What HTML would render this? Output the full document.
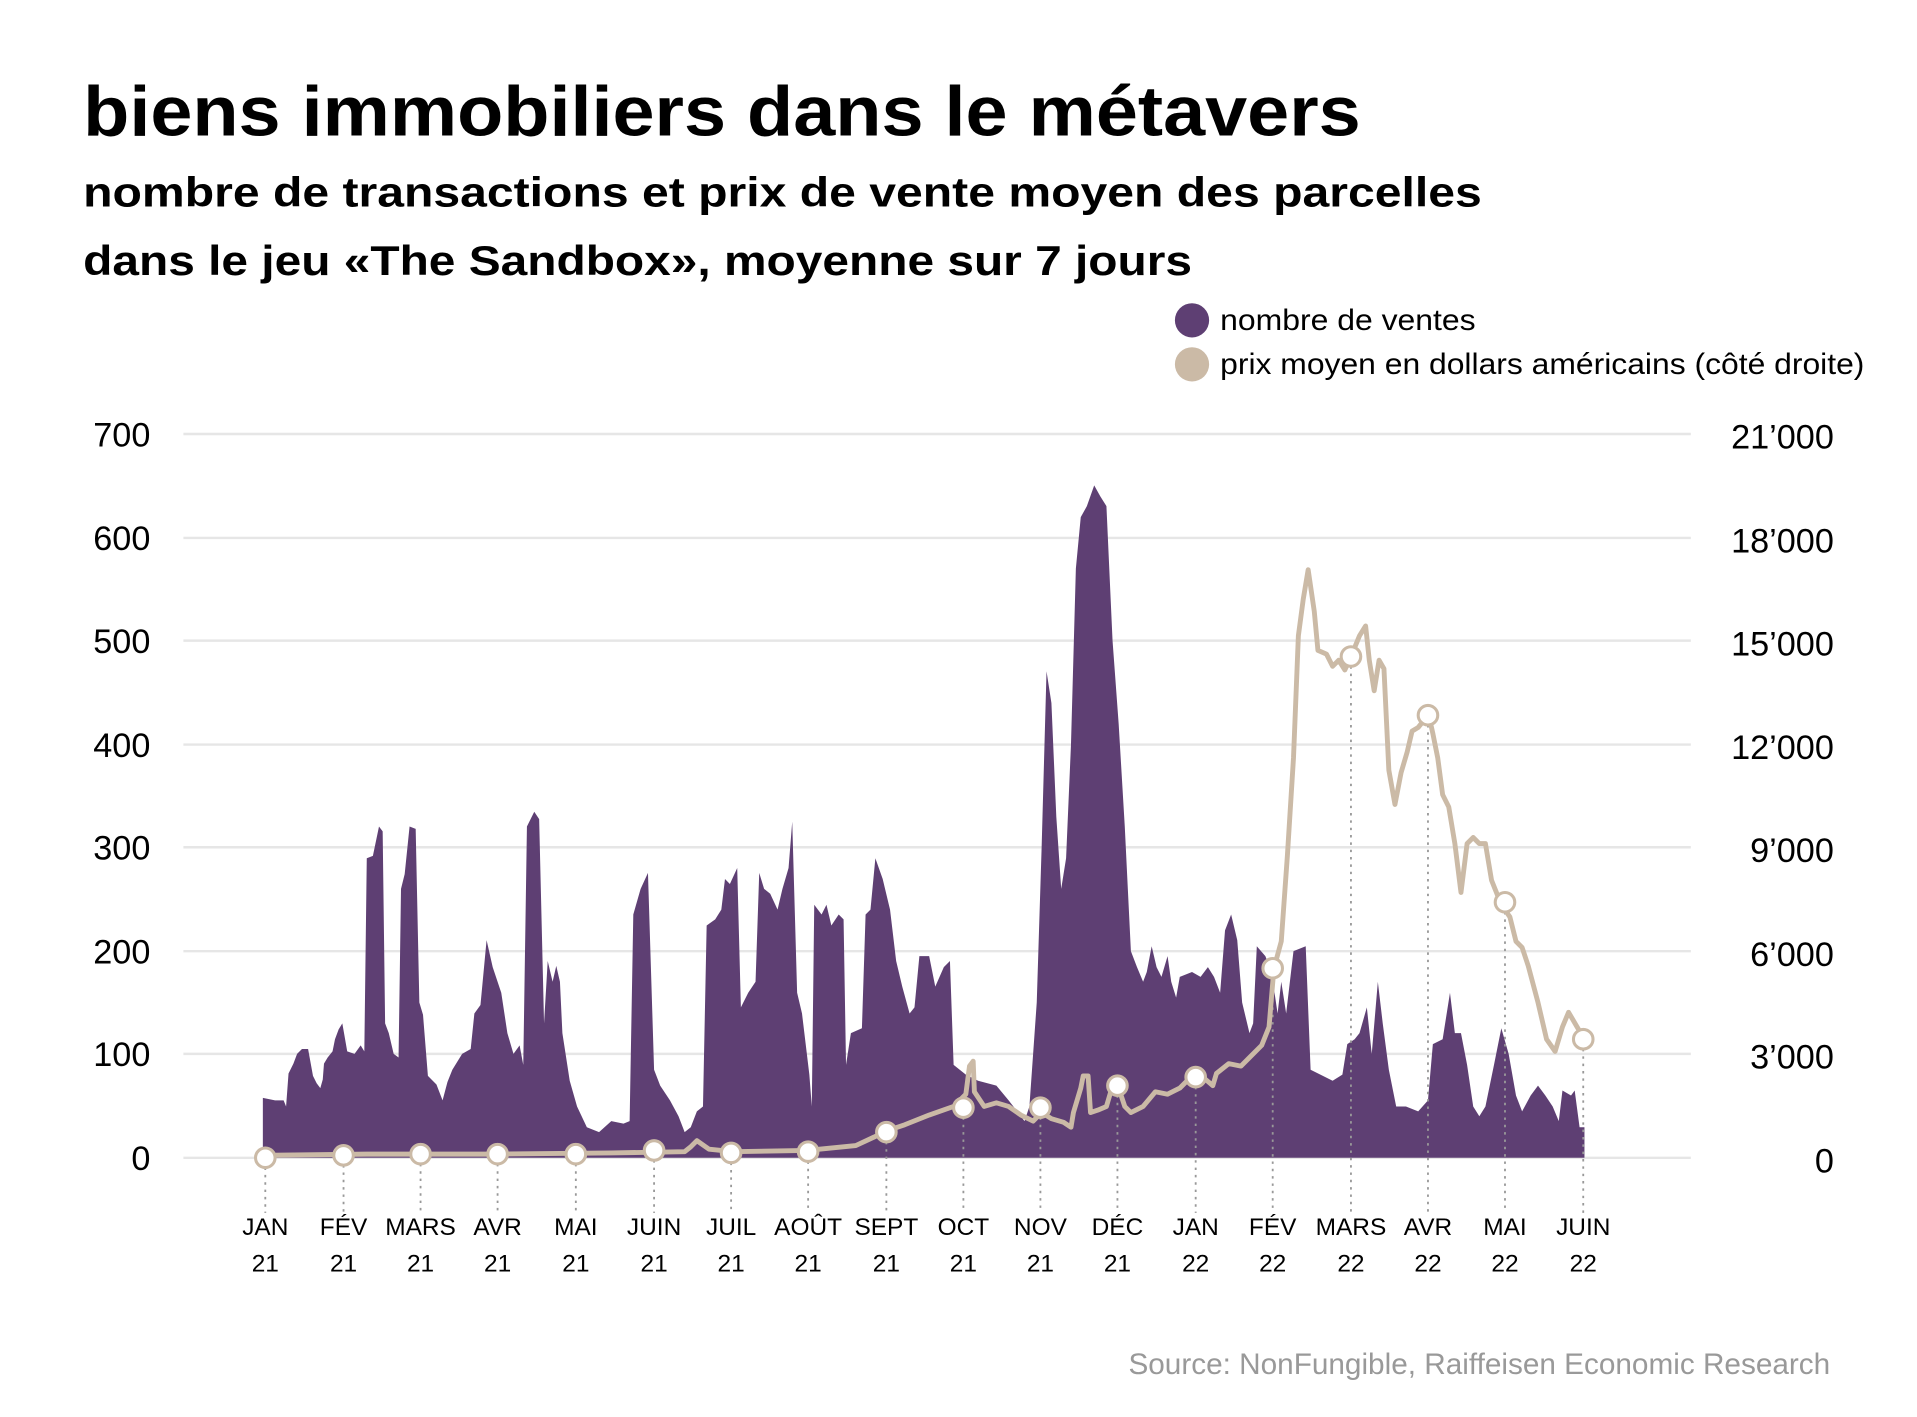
<!DOCTYPE html>
<html><head><meta charset="utf-8"><style>html,body{margin:0;padding:0;background:#fff}svg{display:block}</style></head><body>
<svg width="1917" height="1417" viewBox="0 0 1568 1159" xmlns="http://www.w3.org/2000/svg" font-family="Liberation Sans, sans-serif">
<rect width="1568" height="1159" fill="#fff"/>
<text x="68" y="111" font-size="58" font-weight="bold" textLength="1045" lengthAdjust="spacingAndGlyphs">biens immobiliers dans le métavers</text>
<text x="68" y="169" font-size="34" font-weight="bold" textLength="1144" lengthAdjust="spacingAndGlyphs">nombre de transactions et prix de vente moyen des parcelles</text>
<text x="68" y="225" font-size="34" font-weight="bold" textLength="907" lengthAdjust="spacingAndGlyphs">dans le jeu «The Sandbox», moyenne sur 7 jours</text>
<circle cx="975" cy="262" r="14" fill="#5e3f73"/>
<circle cx="975" cy="298" r="14" fill="#cbbaa6"/>
<text x="998" y="270" font-size="24" textLength="209" lengthAdjust="spacingAndGlyphs">nombre de ventes</text>
<text x="998" y="306" font-size="24" textLength="527" lengthAdjust="spacingAndGlyphs">prix moyen en dollars américains (côté droite)</text>
<g stroke="#e6e6e6" stroke-width="2">
<line x1="150" x2="1383" y1="355" y2="355"/><line x1="150" x2="1383" y1="440" y2="440"/><line x1="150" x2="1383" y1="524" y2="524"/><line x1="150" x2="1383" y1="609" y2="609"/><line x1="150" x2="1383" y1="693" y2="693"/><line x1="150" x2="1383" y1="778" y2="778"/><line x1="150" x2="1383" y1="862" y2="862"/><line x1="150" x2="1383" y1="947" y2="947"/>
</g>
<g font-size="28" text-anchor="end">
<text x="123" y="365">700</text><text x="123" y="450">600</text><text x="123" y="534">500</text><text x="123" y="619">400</text><text x="123" y="703">300</text><text x="123" y="788">200</text><text x="123" y="872">100</text><text x="123" y="957">0</text>
<text x="1500" y="367">21’000</text><text x="1500" y="452">18’000</text><text x="1500" y="536">15’000</text><text x="1500" y="621">12’000</text><text x="1500" y="705">9’000</text><text x="1500" y="790">6’000</text><text x="1500" y="874">3’000</text><text x="1500" y="959">0</text>
</g>
<path fill="#5e3f73" d="M215,947 L215,898 L225,900 L232,900 L234,905 L236,878 L240,870 L243,862 L247,858 L252,858 L256,880 L259,886 L262,890 L264,883 L265,870 L268,865 L272,860 L274,850 L277,842 L280,837 L284,860 L290,862 L295,855 L298,860 L300,702 L305,700 L310,676 L313,680 L315,837 L318,845 L322,862 L326,865 L328,727 L331,715 L335,676 L340,678 L343,820 L346,830 L350,880 L357,887 L362,900 L366,885 L370,875 L378,862 L385,858 L388,829 L393,822 L398,769 L403,791 L410,812 L415,845 L420,862 L425,855 L428,871 L431,676 L437,664 L441,670 L445,837 L448,786 L452,803 L455,790 L458,803 L460,845 L466,884 L472,905 L480,922 L490,926 L500,917 L510,919 L515,917 L518,748 L524,727 L530,714 L535,875 L540,888 L548,900 L555,913 L560,926 L565,922 L570,909 L575,905 L578,757 L585,752 L590,744 L593,719 L597,723 L603,710 L606,824 L612,812 L618,803 L621,714 L625,727 L630,731 L636,744 L640,727 L645,710 L648,672 L652,812 L656,829 L662,879 L664,905 L666,740 L672,748 L676,740 L680,757 L686,748 L690,752 L692,871 L696,845 L705,841 L708,748 L712,744 L716,702 L722,719 L728,744 L733,786 L738,807 L744,829 L748,824 L752,782 L760,782 L765,807 L772,791 L777,786 L780,871 L790,879 L800,884 L815,888 L825,900 L832,909 L838,917 L842,905 L848,820 L852,693 L856,549 L860,575 L864,668 L868,727 L872,702 L876,609 L880,465 L884,423 L889,414 L895,397 L900,406 L905,414 L910,524 L915,592 L920,676 L925,778 L930,791 L935,803 L938,795 L942,774 L946,791 L950,799 L955,782 L958,803 L962,816 L965,799 L975,795 L982,799 L988,791 L993,799 L998,812 L1002,761 L1007,748 L1012,769 L1016,820 L1022,845 L1025,837 L1028,774 L1035,782 L1040,795 L1045,829 L1048,803 L1052,829 L1058,778 L1068,774 L1072,875 L1080,879 L1090,884 L1098,879 L1102,854 L1108,850 L1112,845 L1118,824 L1122,862 L1127,803 L1131,837 L1136,875 L1142,905 L1150,905 L1160,909 L1168,900 L1172,854 L1180,850 L1186,812 L1190,845 L1195,845 L1200,871 L1205,905 L1210,913 L1215,905 L1222,871 L1228,841 L1234,862 L1240,896 L1245,909 L1252,896 L1258,888 L1264,896 L1270,905 L1275,917 L1278,892 L1285,896 L1288,892 L1292,922 L1296,922 L1296,947 Z"/>
<g stroke="#999" stroke-width="1.5" stroke-dasharray="2,4">
<line x1="217" x2="217" y1="955" y2="992"/><line x1="281" x2="281" y1="953" y2="992"/><line x1="344" x2="344" y1="952" y2="992"/><line x1="407" x2="407" y1="952" y2="992"/><line x1="471" x2="471" y1="952" y2="992"/><line x1="535" x2="535" y1="949" y2="992"/><line x1="598" x2="598" y1="951" y2="992"/><line x1="661" x2="661" y1="950" y2="992"/><line x1="725" x2="725" y1="934" y2="992"/><line x1="788" x2="788" y1="914" y2="992"/><line x1="851" x2="851" y1="914" y2="992"/><line x1="914" x2="914" y1="896" y2="992"/><line x1="978" x2="978" y1="889" y2="992"/><line x1="1041" x2="1041" y1="800" y2="992"/><line x1="1105" x2="1105" y1="545" y2="992"/><line x1="1168" x2="1168" y1="593" y2="992"/><line x1="1231" x2="1231" y1="746" y2="992"/><line x1="1295" x2="1295" y1="858" y2="992"/>
</g>
<polyline fill="none" stroke="#cbbaa6" stroke-width="4" stroke-linejoin="round" points="215,945 300,944 400,944 500,943 560,942 565,938 570,933 580,940 600,942 660,941 700,937 715,930 725,925 740,920 760,912 780,905 790,895 793,872 796,868 797,893 805,905 815,902 825,905 835,912 845,917 852,910 860,915 870,918 876,922 878,910 884,890 886,880 890,880 892,910 898,908 905,905 910,888 915,890 920,905 925,910 935,905 945,893 955,895 965,890 975,880 985,882 992,888 995,878 1005,870 1015,872 1025,862 1032,855 1038,840 1042,792 1048,770 1053,700 1058,620 1062,520 1066,490 1070,466 1075,500 1078,532 1085,535 1090,545 1095,540 1100,548 1105,537 1112,520 1117,512 1120,540 1124,565 1128,540 1132,547 1136,630 1141,658 1146,632 1151,615 1155,598 1160,595 1164,590 1168,582 1172,600 1176,620 1180,650 1185,660 1190,690 1195,730 1200,690 1205,685 1210,690 1215,690 1220,720 1228,740 1235,750 1240,770 1245,775 1250,790 1258,820 1265,850 1272,860 1278,840 1283,828 1290,840 1296,850"/>
<g fill="#fff" stroke="#cbbaa6" stroke-width="2.5">
<circle cx="217" cy="947" r="8"/><circle cx="281" cy="945" r="8"/><circle cx="344" cy="944" r="8"/><circle cx="407" cy="944" r="8"/><circle cx="471" cy="944" r="8"/><circle cx="535" cy="941" r="8"/><circle cx="598" cy="943" r="8"/><circle cx="661" cy="942" r="8"/><circle cx="725" cy="926" r="8"/><circle cx="788" cy="906" r="8"/><circle cx="851" cy="906" r="8"/><circle cx="914" cy="888" r="8"/><circle cx="978" cy="881" r="8"/><circle cx="1041" cy="792" r="8"/><circle cx="1105" cy="537" r="8"/><circle cx="1168" cy="585" r="8"/><circle cx="1231" cy="738" r="8"/><circle cx="1295" cy="850" r="8"/>
</g>
<g font-size="20" text-anchor="middle">
<text x="217" y="1010">JAN</text><text x="281" y="1010">FÉV</text><text x="344" y="1010">MARS</text><text x="407" y="1010">AVR</text><text x="471" y="1010">MAI</text><text x="535" y="1010">JUIN</text><text x="598" y="1010">JUIL</text><text x="661" y="1010">AOÛT</text><text x="725" y="1010">SEPT</text><text x="788" y="1010">OCT</text><text x="851" y="1010">NOV</text><text x="914" y="1010">DÉC</text><text x="978" y="1010">JAN</text><text x="1041" y="1010">FÉV</text><text x="1105" y="1010">MARS</text><text x="1168" y="1010">AVR</text><text x="1231" y="1010">MAI</text><text x="1295" y="1010">JUIN</text>
<text x="217" y="1040">21</text><text x="281" y="1040">21</text><text x="344" y="1040">21</text><text x="407" y="1040">21</text><text x="471" y="1040">21</text><text x="535" y="1040">21</text><text x="598" y="1040">21</text><text x="661" y="1040">21</text><text x="725" y="1040">21</text><text x="788" y="1040">21</text><text x="851" y="1040">21</text><text x="914" y="1040">21</text><text x="978" y="1040">22</text><text x="1041" y="1040">22</text><text x="1105" y="1040">22</text><text x="1168" y="1040">22</text><text x="1231" y="1040">22</text><text x="1295" y="1040">22</text>
</g>
<text x="1497" y="1124" font-size="24" fill="#999" text-anchor="end" textLength="574" lengthAdjust="spacingAndGlyphs">Source: NonFungible, Raiffeisen Economic Research</text>
</svg>
</body></html>
